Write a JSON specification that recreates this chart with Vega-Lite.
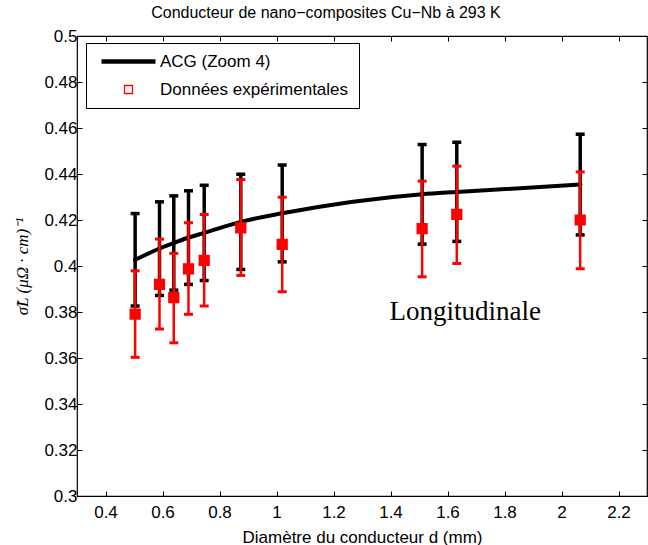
{
  "$schema": "https://vega.github.io/schema/vega-lite/v6.json",
  "width": 570,
  "height": 460,
  "autosize": {"type": "none"},
  "padding": {"left": 77, "top": 36, "right": 1, "bottom": 49},
  "background": "white",
  "config": {
    "view": {"stroke": "black", "strokeWidth": 1.2},
    "font": "Liberation Sans",
    "point": {"opacity": 1},
    "tick": {"opacity": 1},
    "axis": {
      "labelFont": "Liberation Sans",
      "labelFontSize": 17,
      "labelColor": "black",
      "tickColor": "black",
      "tickSize": -5,
      "tickWidth": 1,
      "domain": false,
      "grid": false,
      "labelFlush": false,
      "titleFont": "Liberation Sans",
      "titleFontSize": 17,
      "titleFontWeight": "normal",
      "titleColor": "black"
    },
    "legend": {
      "orient": "none", "legendX": 9, "legendY": 7,
      "padding": 10, "strokeColor": "black", "fillColor": "white", "cornerRadius": 0,
      "labelFont": "Liberation Sans", "labelFontSize": 17, "labelColor": "black",
      "labelOffset": 47, "rowPadding": 9, "symbolSize": 64, "labelLimit": 400
    }
  },
  "title": {
    "text": "Conducteur de nano−composites Cu−Nb à 293 K",
    "font": "Liberation Sans",
    "fontSize": 16,
    "fontWeight": "normal",
    "color": "black",
    "offset": 6,
    "dx": -36,
    "anchor": "middle"
  },
  "data": {
    "values": [
      {"d": 0.504, "acg": 0.4027, "acg_lo": 0.3826, "acg_hi": 0.4228, "exp": 0.3791, "exp_lo": 0.3603, "exp_hi": 0.3979},
      {"d": 0.5895, "acg": 0.4076, "acg_lo": 0.3872, "acg_hi": 0.4279, "exp": 0.392, "exp_lo": 0.3726, "exp_hi": 0.4117},
      {"d": 0.6396, "acg": 0.41, "acg_lo": 0.3895, "acg_hi": 0.4305, "exp": 0.3862, "exp_lo": 0.3666, "exp_hi": 0.4055},
      {"d": 0.6912, "acg": 0.4124, "acg_lo": 0.392, "acg_hi": 0.4327, "exp": 0.3988, "exp_lo": 0.379, "exp_hi": 0.4188},
      {"d": 0.7463, "acg": 0.4144, "acg_lo": 0.3937, "acg_hi": 0.4351, "exp": 0.4024, "exp_lo": 0.3826, "exp_hi": 0.4224},
      {"d": 0.8747, "acg": 0.4192, "acg_lo": 0.3985, "acg_hi": 0.4399, "exp": 0.4166, "exp_lo": 0.3959, "exp_hi": 0.4376},
      {"d": 1.02, "acg": 0.4229, "acg_lo": 0.4018, "acg_hi": 0.4439, "exp": 0.4094, "exp_lo": 0.3888, "exp_hi": 0.4299},
      {"d": 1.511, "acg": 0.4312, "acg_lo": 0.4095, "acg_hi": 0.4528, "exp": 0.4163, "exp_lo": 0.3953, "exp_hi": 0.4369},
      {"d": 1.6326, "acg": 0.4322, "acg_lo": 0.4107, "acg_hi": 0.4538, "exp": 0.4224, "exp_lo": 0.4011, "exp_hi": 0.4434},
      {"d": 2.0656, "acg": 0.4354, "acg_lo": 0.4135, "acg_hi": 0.4573, "exp": 0.42, "exp_lo": 0.3988, "exp_hi": 0.4409}
    ]
  },
  "resolve": {"axis": {"x": "independent", "y": "independent"}},
  "layer": [
    {
      "mark": {"type": "errorbar", "color": "black", "thickness": 3.5, "ticks": {"size": 9, "thickness": 3.5, "opacity": 1}},
      "encoding": {
        "x": {"field": "d", "type": "quantitative", "axis": null},
        "y": {"field": "acg_lo", "type": "quantitative", "axis": null},
        "y2": {"field": "acg_hi"}
      }
    },
    {
      "mark": {"type": "line", "color": "black", "strokeWidth": 4, "interpolate": "monotone"},
      "encoding": {
        "x": {
          "field": "d", "type": "quantitative",
          "scale": {"domain": [0.3, 2.3], "nice": false, "zero": false},
          "axis": {
            "orient": "bottom",
            "values": [0.4, 0.6, 0.8, 1, 1.2, 1.4, 1.6, 1.8, 2, 2.2],
            "format": "~g",
            "title": "Diamètre du conducteur d (mm)",
            "labelPadding": 13,
            "titlePadding": 9
          }
        },
        "y": {
          "field": "acg", "type": "quantitative",
          "scale": {"domain": [0.3, 0.5], "nice": false, "zero": false},
          "axis": {
            "orient": "left",
            "values": [0.3, 0.32, 0.34, 0.36, 0.38, 0.4, 0.42, 0.44, 0.46, 0.48, 0.5],
            "format": "~g",
            "title": "σ̃L (μΩ · cm)⁻¹",
            "titleFont": "Liberation Serif",
            "titleFontStyle": "italic",
            "labelPadding": 5,
            "titlePadding": 12
          }
        }
      }
    },
    {
      "mark": {"type": "point", "filled": true, "shape": "circle", "size": 20, "color": "black"},
      "encoding": {
        "x": {
          "field": "d", "type": "quantitative",
          "axis": {"orient": "top", "values": [0.4, 0.6, 0.8, 1, 1.2, 1.4, 1.6, 1.8, 2, 2.2], "labels": false, "title": null}
        },
        "y": {
          "field": "acg", "type": "quantitative",
          "axis": {"orient": "right", "values": [0.3, 0.32, 0.34, 0.36, 0.38, 0.4, 0.42, 0.44, 0.46, 0.48, 0.5], "labels": false, "title": null}
        }
      }
    },
    {
      "mark": {"type": "errorbar", "color": "red", "thickness": 2.5, "ticks": {"size": 9, "thickness": 3, "opacity": 1}},
      "encoding": {
        "x": {"field": "d", "type": "quantitative", "axis": null},
        "y": {"field": "exp_lo", "type": "quantitative", "axis": null},
        "y2": {"field": "exp_hi"}
      }
    },
    {
      "mark": {"type": "point", "filled": true, "shape": "square", "size": 95, "color": "red", "stroke": "red", "strokeWidth": 1.5},
      "encoding": {
        "x": {"field": "d", "type": "quantitative", "axis": null},
        "y": {"field": "exp", "type": "quantitative", "axis": null}
      }
    },
    {
      "data": {"values": []},
      "mark": {"type": "point", "filled": false},
      "encoding": {
        "color": {
          "datum": "Données expérimentales", "type": "nominal",
          "scale": {"domain": ["ACG (Zoom 4)", "Données expérimentales"], "range": ["black", "red"]},
          "legend": {"title": null}
        },
        "shape": {
          "datum": "Données expérimentales", "type": "nominal",
          "scale": {"domain": ["ACG (Zoom 4)", "Données expérimentales"], "range": ["M-0.75,0H12.75", "M5,-1H7V1H5Z"]},
          "legend": {"title": null}
        },
        "strokeWidth": {
          "datum": "Données expérimentales", "type": "nominal",
          "scale": {"domain": ["ACG (Zoom 4)", "Données expérimentales"], "range": [4.5, 1.3]},
          "legend": {"title": null}
        }
      }
    },
    {
      "data": {"values": [{"t": "Longitudinale"}]},
      "mark": {"type": "text", "font": "Liberation Serif", "fontSize": 27, "align": "left", "baseline": "alphabetic", "color": "black"},
      "encoding": {
        "x": {"datum": 1.3965, "type": "quantitative", "axis": null},
        "y": {"datum": 0.3765, "type": "quantitative", "axis": null},
        "text": {"field": "t"}
      }
    }
  ]
}
